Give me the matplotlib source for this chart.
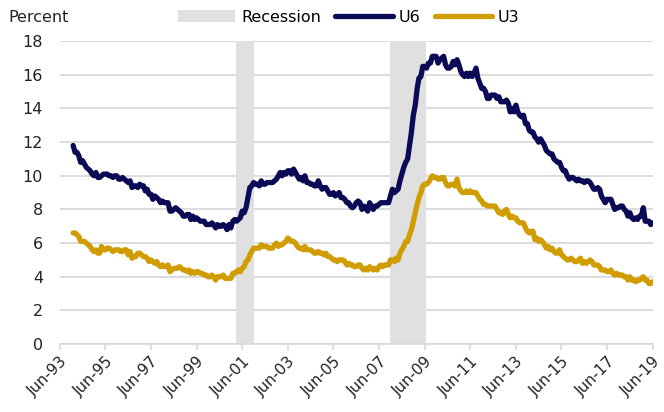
import pandas as pd
import matplotlib.pyplot as plt
import matplotlib.dates as mdates
from matplotlib.patches import Patch
from matplotlib.lines import Line2D

# monthly values, Jan-1994 .. Jun-2019
U6 = [
    11.8, 11.4, 11.4, 11.2, 10.8, 10.9, 10.7, 10.5, 10.4, 10.3, 10.1, 10.0,  # 1994
    10.2, 9.9, 9.9, 10.0, 10.1, 10.1, 10.1, 10.0, 10.0, 9.9, 10.0, 10.0,     # 1995
    9.8, 9.8, 9.9, 9.8, 9.7, 9.6, 9.7, 9.3, 9.4, 9.4, 9.3, 9.5,              # 1996
    9.4, 9.4, 9.1, 9.2, 8.9, 8.9, 8.6, 8.8, 8.7, 8.6, 8.4, 8.5,              # 1997
    8.4, 8.4, 8.4, 7.9, 7.9, 8.0, 8.1, 8.0, 7.9, 7.8, 7.6, 7.6,              # 1998
    7.7, 7.7, 7.4, 7.6, 7.4, 7.5, 7.4, 7.3, 7.3, 7.3, 7.1, 7.1,              # 1999
    7.1, 7.2, 7.1, 6.9, 7.1, 7.0, 7.0, 7.1, 7.0, 6.8, 7.1, 6.9,              # 2000
    7.3, 7.4, 7.3, 7.4, 7.5, 7.9, 7.8, 8.1, 8.7, 9.3, 9.4, 9.6,              # 2001
    9.5, 9.5, 9.4, 9.7, 9.5, 9.5, 9.6, 9.6, 9.6, 9.6, 9.7, 9.8,              # 2002
    10.0, 10.2, 10.0, 10.2, 10.1, 10.3, 10.3, 10.1, 10.4, 10.2, 10.0, 9.8,   # 2003
    9.9, 9.7, 10.0, 9.6, 9.6, 9.5, 9.5, 9.4, 9.4, 9.7, 9.4, 9.2,             # 2004
    9.3, 9.3, 9.1, 8.9, 8.9, 9.0, 8.8, 8.9, 9.0, 8.7, 8.7, 8.6,              # 2005
    8.4, 8.4, 8.2, 8.1, 8.2, 8.4, 8.5, 8.4, 8.0, 8.2, 8.1, 7.9,              # 2006
    8.4, 8.2, 8.0, 8.2, 8.2, 8.3, 8.4, 8.4, 8.4, 8.4, 8.4, 8.8,              # 2007
    9.2, 9.0, 9.1, 9.2, 9.7, 10.1, 10.5, 10.8, 11.0, 11.8, 12.6, 13.6,       # 2008
    14.2, 15.2, 15.8, 15.9, 16.5, 16.5, 16.4, 16.7, 16.7, 17.1, 17.1, 17.1,  # 2009
    16.7, 16.9, 17.0, 17.1, 16.6, 16.4, 16.4, 16.5, 16.8, 16.6, 16.9, 16.6,  # 2010
    16.2, 16.0, 15.9, 16.1, 15.9, 16.1, 15.9, 16.1, 16.4, 15.8, 15.5, 15.2,  # 2011
    15.2, 15.0, 14.6, 14.6, 14.8, 14.8, 14.8, 14.6, 14.7, 14.4, 14.4, 14.4,  # 2012
    14.5, 14.3, 13.8, 14.0, 13.8, 14.2, 13.8, 13.6, 13.5, 13.6, 13.1, 13.1,  # 2013
    12.7, 12.6, 12.6, 12.3, 12.2, 12.0, 12.2, 12.0, 11.8, 11.5, 11.4, 11.3,  # 2014
    11.3, 11.0, 10.9, 10.8, 10.8, 10.5, 10.3, 10.3, 10.0, 9.8, 9.9, 9.9,     # 2015
    9.8, 9.7, 9.8, 9.7, 9.7, 9.6, 9.7, 9.7, 9.6, 9.4, 9.2, 9.2,              # 2016
    9.3, 9.2, 8.8, 8.6, 8.4, 8.6, 8.6, 8.6, 8.3, 8.0, 8.1, 8.1,              # 2017
    8.2, 8.2, 8.0, 7.9, 7.6, 7.8, 7.5, 7.4, 7.5, 7.4, 7.6, 7.6,              # 2018
    8.1, 7.3, 7.3, 7.3, 7.1, 7.2,                                            # 2019
]

U3 = [
    6.6, 6.6, 6.5, 6.4, 6.1, 6.1, 6.1, 6.0, 5.9, 5.8, 5.6, 5.5,   # 1994
    5.6, 5.4, 5.4, 5.8, 5.6, 5.6, 5.7, 5.7, 5.6, 5.5, 5.6, 5.6,   # 1995
    5.6, 5.5, 5.5, 5.6, 5.6, 5.3, 5.5, 5.1, 5.2, 5.2, 5.4, 5.4,   # 1996
    5.3, 5.2, 5.2, 5.1, 4.9, 5.0, 4.9, 4.8, 4.9, 4.7, 4.6, 4.7,   # 1997
    4.6, 4.6, 4.7, 4.3, 4.4, 4.5, 4.5, 4.5, 4.6, 4.5, 4.4, 4.4,   # 1998
    4.3, 4.4, 4.2, 4.3, 4.2, 4.3, 4.3, 4.2, 4.2, 4.1, 4.1, 4.0,   # 1999
    4.0, 4.1, 4.0, 3.8, 4.0, 4.0, 4.0, 4.1, 3.9, 3.9, 3.9, 3.9,   # 2000
    4.2, 4.2, 4.3, 4.4, 4.3, 4.5, 4.6, 4.9, 5.0, 5.3, 5.5, 5.7,   # 2001
    5.7, 5.7, 5.7, 5.9, 5.8, 5.8, 5.8, 5.7, 5.7, 5.7, 5.9, 6.0,   # 2002
    5.8, 5.9, 5.9, 6.0, 6.1, 6.3, 6.2, 6.1, 6.1, 6.0, 5.8, 5.7,   # 2003
    5.7, 5.6, 5.8, 5.6, 5.6, 5.6, 5.5, 5.4, 5.4, 5.5, 5.4, 5.4,   # 2004
    5.3, 5.4, 5.2, 5.2, 5.1, 5.0, 5.0, 4.9, 5.0, 5.0, 5.0, 4.9,   # 2005
    4.7, 4.8, 4.7, 4.7, 4.6, 4.6, 4.7, 4.7, 4.5, 4.4, 4.5, 4.4,   # 2006
    4.6, 4.5, 4.4, 4.5, 4.4, 4.6, 4.7, 4.6, 4.7, 4.7, 4.7, 5.0,   # 2007
    5.0, 4.9, 5.1, 5.0, 5.4, 5.6, 5.8, 6.1, 6.1, 6.5, 6.8, 7.3,   # 2008
    7.8, 8.3, 8.7, 9.0, 9.4, 9.5, 9.5, 9.6, 9.8, 10.0, 9.9, 9.9,  # 2009
    9.8, 9.8, 9.9, 9.9, 9.6, 9.4, 9.4, 9.5, 9.5, 9.4, 9.8, 9.3,   # 2010
    9.1, 9.0, 9.0, 9.1, 9.0, 9.1, 9.0, 9.0, 9.0, 8.8, 8.6, 8.5,   # 2011
    8.3, 8.3, 8.2, 8.2, 8.2, 8.2, 8.2, 8.0, 7.8, 7.8, 7.7, 7.9,   # 2012
    8.0, 7.7, 7.5, 7.6, 7.5, 7.5, 7.3, 7.2, 7.2, 7.2, 6.9, 6.7,   # 2013
    6.6, 6.7, 6.7, 6.2, 6.3, 6.1, 6.2, 6.1, 5.9, 5.7, 5.8, 5.6,   # 2014
    5.7, 5.5, 5.4, 5.4, 5.6, 5.3, 5.2, 5.1, 5.0, 5.0, 5.1, 5.0,   # 2015
    4.9, 4.9, 5.0, 5.1, 4.8, 4.9, 4.8, 4.9, 5.0, 4.9, 4.7, 4.7,   # 2016
    4.7, 4.6, 4.4, 4.4, 4.4, 4.3, 4.3, 4.4, 4.2, 4.1, 4.2, 4.1,   # 2017
    4.1, 4.1, 4.0, 4.0, 3.8, 4.0, 3.8, 3.8, 3.7, 3.8, 3.8, 3.9,   # 2018
    4.0, 3.8, 3.8, 3.6, 3.6, 3.7,                                 # 2019
]

RECESSIONS = [("2001-03-01", "2001-12-01"), ("2007-12-01", "2009-06-25")]

NAVY = "#0b0b55"
GOLD = "#d09c00"
GREY = "#e0e0e0"
LW = 3.8

dates = pd.date_range("1994-01-01", periods=len(U6), freq="MS")

fig = plt.figure(figsize=(6.64, 4.12), dpi=100)
ax = fig.add_axes([0.090, 0.165, 0.893, 0.735])

for start, end in RECESSIONS:
    ax.axvspan(pd.Timestamp(start), pd.Timestamp(end), color=GREY, lw=0, zorder=1)

ax.plot(dates, U6, color=NAVY, lw=LW, solid_capstyle="round", solid_joinstyle="round", zorder=3)
ax.plot(dates, U3, color=GOLD, lw=LW, solid_capstyle="round", solid_joinstyle="round", zorder=3)

ax.set_ylim(0, 18)
ax.set_yticks(range(0, 19, 2))
ax.set_xlim(pd.Timestamp("1993-06-01"), pd.Timestamp("2019-06-01"))
ticks = pd.date_range("1993-06-01", "2019-06-01", freq="24MS")
ax.set_xticks(ticks)
ax.xaxis.set_major_formatter(mdates.DateFormatter("%b-%y"))
plt.setp(ax.get_xticklabels(), rotation=45, ha="right", rotation_mode="anchor")

ax.grid(axis="y", color="#d9d9d9", lw=1.3, zorder=0)
ax.set_axisbelow(True)
for s in ["left", "right", "top"]:
    ax.spines[s].set_visible(False)
ax.spines["bottom"].set_color("#d9d9d9")
ax.spines["bottom"].set_linewidth(1.3)
ax.tick_params(axis="y", length=0, pad=12, labelsize=11.5, colors="#222222")
ax.tick_params(axis="x", length=4, width=1.2, color="#d9d9d9", pad=3, labelsize=11, labelcolor="#222222")

fig.text(0.012, 0.958, "Percent", fontsize=11.5, color="#222222", va="center")

handles = [
    Patch(facecolor=GREY, edgecolor="none"),
    Line2D([], [], color=NAVY, lw=LW, solid_capstyle="round"),
    Line2D([], [], color=GOLD, lw=LW, solid_capstyle="round"),
]
fig.legend(handles, ["Recession", "U6", "U3"], loc="center", bbox_to_anchor=(0.525, 0.958),
           ncol=3, frameon=False, fontsize=11.5, handlelength=3.6, handletextpad=0.35,
           columnspacing=0.9, handleheight=0.8)

fig.savefig("out.png", dpi=100)
